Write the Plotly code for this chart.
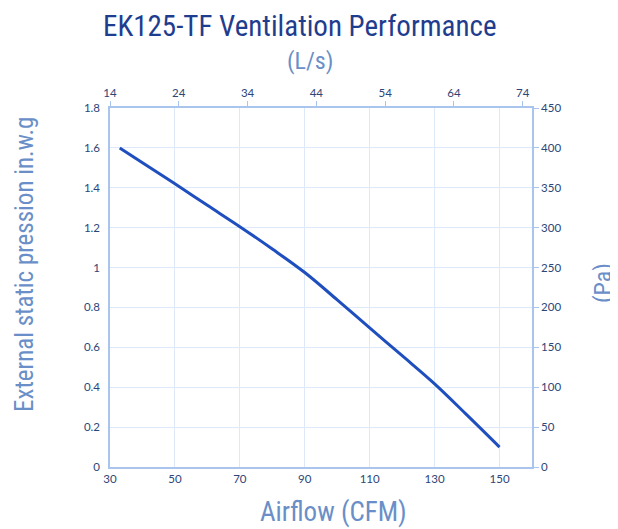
import plotly.graph_objects as go

# Data
airflow_cfm = [33, 40, 50, 60, 70, 80, 90, 100, 110, 120, 130, 140, 150]
pressure_inwg = [1.6, 1.525, 1.42, 1.312, 1.205, 1.093, 0.975, 0.838, 0.697, 0.558, 0.417, 0.26, 0.1]

CFM_PER_LS = 2.11888
PA_PER_INWG = 249.089
airflow_ls = [v / CFM_PER_LS for v in airflow_cfm]
pressure_pa = [v * PA_PER_INWG for v in pressure_inwg]

title_text = "EK125-TF Ventilation Performance"
x_title = "Airflow (CFM)"
x2_title = "(L/s)"
y_title = "External static pression in.w.g"
y2_title = "(Pa)"

narrow = "Liberation Sans Narrow, Arial Narrow, Roboto Condensed, Liberation Sans, sans-serif"
tick_font = dict(family="Lato, Open Sans, sans-serif", size=11.5, color="#2d4677")
title_blue = "#1f3d8e"
light_blue = "#6a8fc8"
grid_col = "#dde9f8"
axis_col = "#a9c5ee"

fig = go.Figure()
fig.add_trace(go.Scatter(
    x=airflow_cfm, y=pressure_inwg, mode="lines",
    line=dict(color="#1f4fbf", width=3, shape="spline", smoothing=1.0),
    xaxis="x", yaxis="y", showlegend=False, hoverinfo="x+y"))
fig.add_trace(go.Scatter(
    x=airflow_ls, y=pressure_pa, mode="lines",
    line=dict(color="rgba(0,0,0,0)", width=0), xaxis="x2", yaxis="y2",
    showlegend=False, hoverinfo="skip"))


def ann(text, px, py, size, color, angle=0):
    return dict(text=text, x=(px - 110) / 422, y=(467 - py) / 359,
                xref="paper", yref="paper", xanchor="center", yanchor="middle",
                showarrow=False, textangle=angle,
                font=dict(family=narrow, size=size, color=color))


fig.update_layout(
    width=610, height=521,
    paper_bgcolor="white", plot_bgcolor="white",
    margin=dict(l=102, r=86, t=100, b=62),
    xaxis=dict(range=[30, 160], tick0=30, dtick=20, showgrid=True, gridcolor=grid_col,
               gridwidth=1, showline=True, linecolor=axis_col, linewidth=1.5,
               ticks="", tickfont=tick_font, zeroline=False),
    yaxis=dict(range=[0, 1.8], tick0=0, dtick=0.2, showgrid=True, gridcolor=grid_col,
               gridwidth=1, showline=True, linecolor=axis_col, linewidth=1.5,
               ticks="", tickfont=tick_font, zeroline=False, ticklabelstandoff=6),
    xaxis2=dict(range=[14, 14 + 130 / CFM_PER_LS], tick0=14, dtick=10, overlaying="x",
                side="top", showgrid=False, showline=True, linecolor=axis_col, linewidth=1.5,
                ticks="outside", ticklen=5, tickcolor=axis_col, tickfont=tick_font,
                zeroline=False),
    yaxis2=dict(range=[0, 450], tick0=0, dtick=50, overlaying="y", side="right",
                showgrid=False, showline=True, linecolor=axis_col, linewidth=1.5,
                ticks="outside", ticklen=5, tickcolor=axis_col, tickfont=tick_font,
                zeroline=False),
    annotations=[
        ann(title_text, 299, 26, 29, title_blue),
        ann(x2_title, 310, 61, 24, light_blue),
        ann(x_title, 333, 512, 27, light_blue),
        ann(y_title, 24, 265, 25, light_blue, -90),
        ann(y2_title, 603, 283, 24, light_blue, -90),
    ],
)

fig.write_html("out.html")
